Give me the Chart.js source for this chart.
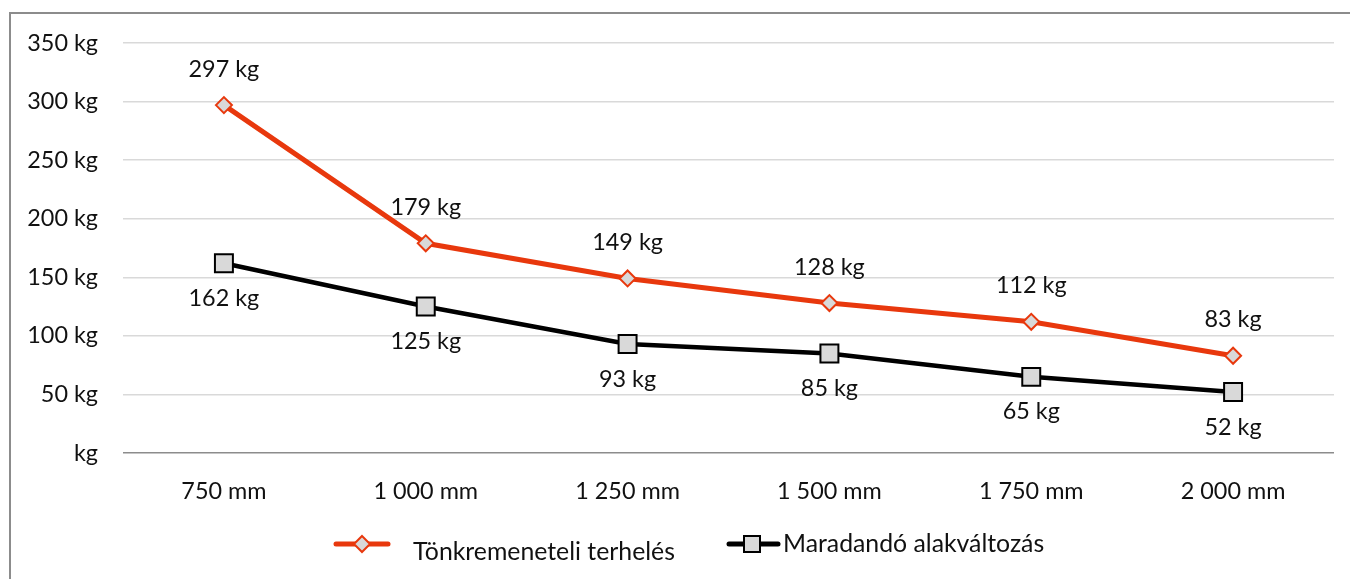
<!DOCTYPE html>
<html>
<head>
<meta charset="utf-8">
<script src="https://cdn.jsdelivr.net/npm/chart.js@4/dist/chart.umd.min.js"></script>
<style>
  html, body { margin: 0; padding: 0; background: #fff; overflow: hidden; }
  #frame { position: absolute; left: 9px; top: 12px; width: 1400px; height: 700px; border: 2px solid #8c8c8c; }
  #wrap { position: absolute; left: 0; top: 0; width: 1350px; height: 579px; }
</style>
</head>
<body>
<div id="frame"></div>
<div id="wrap"><canvas id="chart"></canvas></div>
<script>
// categories and values
const lengths = ['750 mm', '1 000 mm', '1 250 mm', '1 500 mm', '1 750 mm', '2 000 mm'];
const failureLoad = [297, 179, 149, 128, 112, 83];   // Tönkremeneteli terhelés
const permanentDef = [162, 125, 93, 85, 65, 52];     // Maradandó alakváltozás
const yTicks = [0, 50, 100, 150, 200, 250, 300, 350];

const RED = '#e8380d';
const BLACK = '#000000';
const MARK = '#d9d9d9';
const FONT = 'Lato, "Open Sans", "DejaVu Sans", sans-serif';
const FSIZE = 23.4;
const LEGEND_FSIZE = 24.8;

// value labels over / under each point
const valueLabels = {
  id: 'valueLabels',
  afterDatasetsDraw(chart) {
    const ctx = chart.ctx;
    ctx.save();
    ctx.font = FSIZE + 'px ' + FONT;
    ctx.fillStyle = '#111';
    ctx.textAlign = 'center';
    ctx.textBaseline = 'middle';
    chart.data.datasets.forEach((ds, i) => {
      const meta = chart.getDatasetMeta(i);
      meta.data.forEach((pt, j) => {
        ctx.fillText(ds.data[j] + ' kg', pt.x, pt.y + ds.labelOffset);
      });
    });
    ctx.restore();
  }
};

// legend at the bottom, line sample with marker like the original
const bottomLegend = {
  id: 'bottomLegend',
  afterDraw(chart) {
    const ctx = chart.ctx;
    ctx.save();
    // red item
    ctx.strokeStyle = RED;
    ctx.lineWidth = 5;
    ctx.lineCap = 'round';
    ctx.beginPath(); ctx.moveTo(336, 544); ctx.lineTo(388, 544); ctx.stroke();
    ctx.beginPath();
    ctx.moveTo(362, 536); ctx.lineTo(370, 544); ctx.lineTo(362, 552); ctx.lineTo(354, 544); ctx.closePath();
    ctx.fillStyle = MARK; ctx.fill();
    ctx.lineWidth = 2; ctx.stroke();
    // black item
    ctx.strokeStyle = BLACK;
    ctx.lineWidth = 5;
    ctx.beginPath(); ctx.moveTo(729, 544); ctx.lineTo(778, 544); ctx.stroke();
    ctx.fillStyle = MARK;
    ctx.lineWidth = 2;
    ctx.fillRect(744, 536, 16, 16);
    ctx.strokeRect(744, 536, 16, 16);
    // texts
    ctx.font = LEGEND_FSIZE + 'px ' + FONT;
    ctx.fillStyle = '#111';
    ctx.textAlign = 'left';
    ctx.textBaseline = 'middle';
    ctx.fillText(chart.data.datasets[0].label, 413, 552);
    ctx.fillText(chart.data.datasets[1].label, 783, 544);
    ctx.restore();
  }
};

new Chart(document.getElementById('chart'), {
  type: 'line',
  data: {
    labels: lengths,
    datasets: [{
      label: 'Tönkremeneteli terhelés',
      data: failureLoad,
      borderColor: RED,
      borderWidth: 5,
      pointStyle: 'rectRot',
      pointRadius: 8,
      pointBorderWidth: 2,
      pointBackgroundColor: MARK,
      pointBorderColor: RED,
      labelOffset: -36
    }, {
      label: 'Maradandó alakváltozás',
      data: permanentDef,
      borderColor: BLACK,
      borderWidth: 4.5,
      pointStyle: 'rect',
      pointRadius: 12.7,
      pointBorderWidth: 2,
      pointBackgroundColor: MARK,
      pointBorderColor: BLACK,
      labelOffset: 35
    }]
  },
  options: {
    responsive: true,
    maintainAspectRatio: false,
    animation: false,
    layout: { padding: { top: 43, right: 16, left: 0, bottom: 0 } },
    plugins: {
      legend: { display: false },
      tooltip: { enabled: false }
    },
    scales: {
      x: {
        offset: true,
        grid: { display: false },
        border: { display: false },
        ticks: { color: '#111', padding: 16, font: { family: FONT, size: FSIZE } },
        afterFit(scale) { scale.height = 126; }
      },
      y: {
        min: 0,
        max: 350,
        afterBuildTicks(scale) { scale.ticks = yTicks.map(v => ({ value: v })); },
        grid: {
          drawTicks: false,
          lineWidth: 1.5,
          color: c => (c.tick && c.tick.value === 0) ? '#8c8c8c' : '#d9d9d9'
        },
        border: { display: false },
        ticks: {
          color: '#111',
          padding: 25,
          font: { family: FONT, size: FSIZE },
          callback: v => v === 0 ? 'kg' : v + ' kg'
        },
        afterFit(scale) { scale.width = 123; }
      }
    }
  },
  plugins: [valueLabels, bottomLegend]
});
</script>
</body>
</html>
